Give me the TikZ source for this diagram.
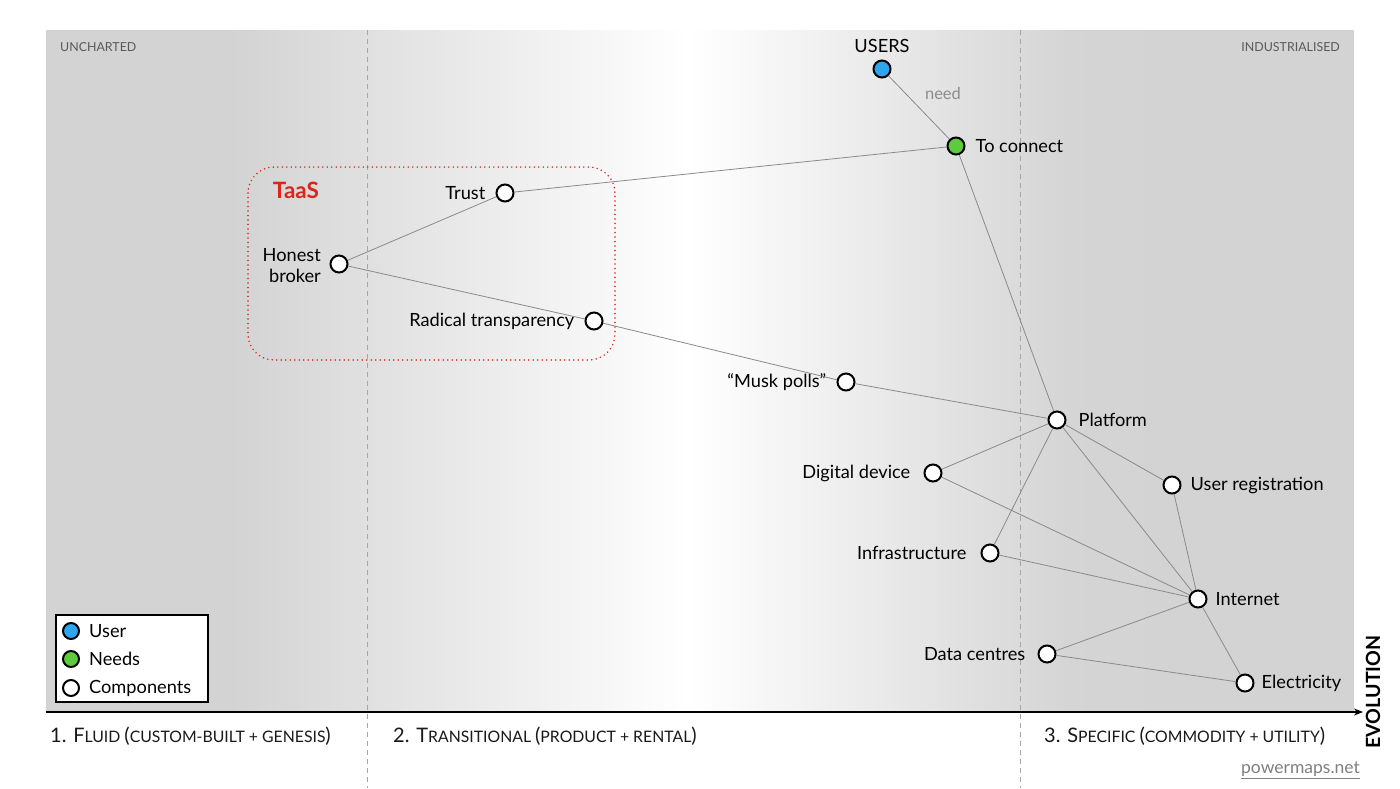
\documentclass[tikz,border=0pt]{standalone}
\usepackage{fontspec}
\setmainfont{Lato}
\usetikzlibrary{arrows.meta}
\definecolor{bgray}{HTML}{D3D3D3}
\definecolor{userblue}{HTML}{2DA6EE}
\definecolor{needgreen}{HTML}{5CCB3C}
\definecolor{edgegray}{HTML}{8A8A8A}
\definecolor{taasred}{HTML}{D9261C}
\newcommand{\bc}[1]{{\fontsize{20}{24}\selectfont #1}}
\newcommand{\sm}[1]{{\fontsize{15.8}{18}\selectfont #1}}
\tikzset{
  comp/.style={circle, draw=black, line width=2pt, fill=white, minimum size=17pt, inner sep=0pt},
  usernode/.style={comp, fill=userblue},
  neednode/.style={comp, fill=needgreen},
  lbl/.style={font=\fontsize{18.2}{21}\selectfont, inner sep=0pt, text=black},
  link/.style={draw=edgegray, line width=0.8pt},
  divider/.style={draw=gray!70, line width=0.7pt, dash pattern=on 5pt off 4pt},
  corner/.style={font=\fontsize{12.4}{14}\selectfont, text=black!65, inner sep=0pt},
  phase/.style={anchor=base west, inner sep=0pt, text=black!90},
  every label/.style={lbl}
}
\begin{document}
\begin{tikzpicture}[x=1pt,y=-1pt]
\useasboundingbox (0,0) rectangle (1400,788);
\fill[white] (0,0) rectangle (1400,788);
% background shading
\fill[bgray] (46,30) rectangle (232,712);
\shade[left color=bgray, right color=white] (231,30) rectangle (690,712);
\shade[left color=white, right color=bgray!96!white] (689,30) rectangle (1070,712);
\shade[left color=bgray!96!white, right color=bgray] (1069,30) rectangle (1175,712);
\fill[bgray] (1174,30) rectangle (1354,712);
% dividers
\draw[divider] (367,30) -- (367,788);
\draw[divider] (1020,30) -- (1020,788);
% corner labels
\node[corner, anchor=west] (unch) at (60,47) {UNCHARTED};
\node[corner, anchor=east] (ind) at (1340,47) {INDUSTRIALISED};
% TaaS box
\draw[taasred, line width=1.7pt, dash pattern=on 0pt off 4.5pt, line cap=round, rounded corners=26pt] (248,167) rectangle (615,360);
\node[text=taasred, font=\fontsize{22.5}{26}\selectfont\bfseries, inner sep=0pt] (taas) at (296,190) {TaaS};
% nodes
\node[usernode, label={[label distance=7pt]above:USERS}] (users) at (882,69) {};
\node[neednode, label={[label distance=10pt]right:To connect}] (connect) at (956,146) {};
\node[comp, label={[label distance=10pt]left:Trust}] (trust) at (505,193) {};
\node[comp] (honest) at (339,264) {};
\node[lbl, align=right, anchor=east, font=\fontsize{18.2}{21}\selectfont] (honestlbl) at (321,265.5) {Honest\\broker};
\node[comp, label={[label distance=10pt]left:Radical transparency}] (radical) at (594,321) {};
\node[comp, label={[label distance=10pt]left:“Musk polls”}] (musk) at (846,382) {};
\node[comp, label={[label distance=12pt]right:Platform}] (platform) at (1057,420) {};
\node[comp, label={[label distance=13pt]left:Digital device}] (digital) at (933,473) {};
\node[comp, label={[label distance=9pt]right:User registration}] (userreg) at (1172,485) {};
\node[comp, label={[label distance=14pt]left:Infrastructure}] (infra) at (990,553) {};
\node[comp, label={[label distance=8pt]right:Internet}] (internet) at (1198,599) {};
\node[comp, label={[label distance=12pt]left:Data centres}] (data) at (1047,654) {};
\node[comp, label={[label distance=7pt]right:Electricity}] (elec) at (1245,683) {};
% links
\draw[link] (users) -- (connect);
\node[inner sep=0pt, text=black!45, font=\fontsize{16.5}{19}\selectfont] (needlbl) at (943,93) {need};
\draw[link] (connect) -- (trust);
\draw[link] (connect) -- (platform);
\draw[link] (trust) -- (honest);
\draw[link] (honest) -- (radical);
\draw[link] (radical) -- (musk);
\draw[link] (musk) -- (platform);
\draw[link] (platform) -- (digital);
\draw[link] (platform) -- (userreg);
\draw[link] (platform) -- (infra);
\draw[link] (platform) -- (internet);
\draw[link] (digital) -- (internet);
\draw[link] (infra) -- (internet);
\draw[link] (userreg) -- (internet);
\draw[link] (internet) -- (data);
\draw[link] (internet) -- (elec);
\draw[link] (data) -- (elec);
% legend
\node[draw=black, line width=2pt, fill=white, minimum width=152pt, minimum height=87pt, inner sep=0pt] (legend) at (132,658.5) {};
\node[comp, minimum size=16pt, fill=userblue] (lu) at (71,631) {};
\node[comp, minimum size=16pt, fill=needgreen] (ln) at (71,659) {};
\node[comp, minimum size=16pt] (lc) at (71,688) {};
\node[lbl, anchor=west] (lut) at (89,631) {User};
\node[lbl, anchor=west] (lnt) at (89,659) {Needs};
\node[lbl, anchor=west] (lct) at (89,688) {Components};
% axis
\coordinate (axs) at (46,712);
\coordinate (axe) at (1363,712);
\draw[line width=2pt, -{Stealth[length=9pt,width=7pt]}] (axs) -- (axe);
\node[phase] (p1) at (50,742) {\bc{1. F}\sm{LUID }\bc{(}\sm{CUSTOM-BUILT + GENESIS}\bc{)}};
\node[phase] (p2) at (393,742) {\bc{2. T}\sm{RANSITIONAL }\bc{(}\sm{PRODUCT + RENTAL}\bc{)}};
\node[phase] (p3) at (1044,742) {\bc{3. S}\sm{PECIFIC }\bc{(}\sm{COMMODITY + UTILITY}\bc{)}};
\node[rotate=90, font=\fontsize{19.6}{22}\selectfont\bfseries, inner sep=0pt] (evo) at (1373,692) {EVOLUTION};
\node[anchor=east, text=black!50, font=\fontsize{17.5}{20}\selectfont, inner sep=0pt] (pm) at (1360,770) {\underline{powermaps.net}};
\end{tikzpicture}
\end{document}
